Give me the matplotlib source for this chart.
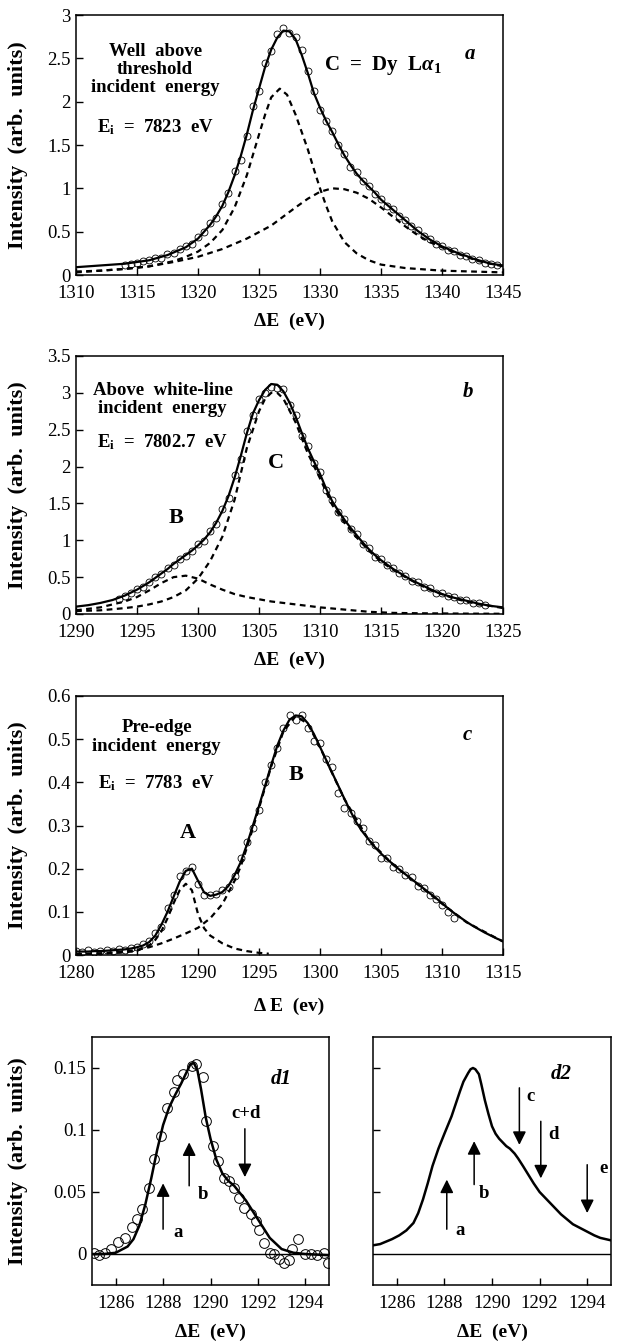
import numpy as np
import matplotlib
matplotlib.use("Agg")
import matplotlib.pyplot as plt
from matplotlib.ticker import FuncFormatter

plt.rcParams['font.family'] = ['Liberation Serif', 'DejaVu Serif']
plt.rcParams['mathtext.fontset'] = 'custom'
plt.rcParams['mathtext.rm'] = 'Liberation Serif:bold'
plt.rcParams['mathtext.it'] = 'Liberation Serif:italic:bold'
plt.rcParams['mathtext.bf'] = 'Liberation Serif:bold'

# ---------------- panel a : well above threshold ----------------
a_x = [1310, 1310.5, 1311, 1311.5, 1312, 1312.5, 1313, 1313.5,
       1314, 1314.5, 1315, 1315.5, 1316, 1316.5, 1317, 1317.5, 1318, 1318.5,
       1319, 1319.5, 1320, 1320.5, 1321, 1321.5, 1322, 1322.5, 1323, 1323.5,
       1324, 1324.5, 1325, 1325.5, 1326, 1326.5, 1327, 1327.5, 1328, 1328.5,
       1329, 1329.5, 1330, 1330.5, 1331, 1331.5, 1332, 1332.5, 1333, 1333.5,
       1334, 1334.5, 1335, 1335.5, 1336, 1336.5, 1337, 1337.5, 1338, 1338.5,
       1339, 1339.5, 1340, 1340.5, 1341, 1341.5, 1342, 1342.5, 1343, 1343.5,
       1344, 1344.5, 1345]
a_fit = [0.09, 0.095, 0.10, 0.105, 0.11, 0.115, 0.12, 0.125,
         0.13, 0.14, 0.15, 0.16, 0.17, 0.19, 0.21, 0.23, 0.26, 0.29,
         0.32, 0.37, 0.42, 0.50, 0.58, 0.68, 0.80, 0.96, 1.15, 1.37,
         1.62, 1.90, 2.15, 2.40, 2.60, 2.74, 2.82, 2.81, 2.72, 2.54,
         2.33, 2.10, 1.93, 1.78, 1.65, 1.51, 1.38, 1.27, 1.17, 1.09,
         1.02, 0.95, 0.87, 0.81, 0.75, 0.69, 0.63, 0.57, 0.51, 0.46,
         0.41, 0.37, 0.33, 0.30, 0.27, 0.24, 0.22, 0.19, 0.17, 0.15,
         0.13, 0.12, 0.11]
a_data = [0.12, 0.13, 0.14, 0.16, 0.17, 0.20, 0.20, 0.24, 0.25, 0.30,
          0.33, 0.36, 0.44, 0.50, 0.60, 0.66, 0.82, 0.95, 1.20, 1.33,
          1.60, 1.95, 2.12, 2.45, 2.58, 2.78, 2.85, 2.79, 2.75, 2.60,
          2.35, 2.12, 1.90, 1.78, 1.66, 1.50, 1.40, 1.25, 1.19, 1.08,
          1.03, 0.94, 0.88, 0.80, 0.76, 0.68, 0.64, 0.56, 0.52, 0.45,
          0.42, 0.36, 0.34, 0.29, 0.28, 0.23, 0.22, 0.18, 0.17, 0.14,
          0.13, 0.11]
a_narrow_x = [1310, 1312, 1314, 1316, 1318, 1319, 1320, 1321, 1322, 1323, 1324,
              1325, 1325.5, 1326, 1326.7, 1327.3, 1328, 1328.5, 1329, 1329.5,
              1330, 1330.5, 1331, 1332, 1333, 1334, 1335, 1337, 1340, 1345]
a_narrow_y = [0.04, 0.05, 0.07, 0.10, 0.16, 0.21, 0.27, 0.37, 0.52, 0.78, 1.15,
              1.62, 1.85, 2.05, 2.15, 2.08, 1.85, 1.65, 1.45, 1.22,
              1.00, 0.80, 0.62, 0.38, 0.25, 0.17, 0.12, 0.08, 0.05, 0.03]
a_wide_x = [1310, 1312, 1314, 1316, 1318, 1320, 1322, 1324, 1326, 1328, 1329,
            1330, 1331, 1332, 1333, 1334, 1335, 1336, 1337, 1338, 1339, 1340,
            1341, 1342, 1343, 1344, 1345]
a_wide_y = [0.03, 0.05, 0.07, 0.10, 0.15, 0.21, 0.30, 0.42, 0.57, 0.78, 0.88,
            0.96, 1.00, 0.99, 0.95, 0.88, 0.78, 0.67, 0.56, 0.46, 0.38, 0.32,
            0.26, 0.21, 0.16, 0.13, 0.10]

# ---------------- panel b : above white line ----------------
b_x = [1290, 1290.5, 1291, 1291.5, 1292, 1292.5, 1293, 1293.5, 1294, 1294.5,
       1295, 1295.5, 1296, 1296.5, 1297, 1297.5, 1298, 1298.5, 1299, 1299.5,
       1300, 1300.5, 1301, 1301.5, 1302, 1302.5, 1303, 1303.5, 1304, 1304.5,
       1305, 1305.5, 1306, 1306.5, 1307, 1307.5, 1308, 1308.5, 1309, 1309.5,
       1310, 1310.5, 1311, 1311.5, 1312, 1312.5, 1313, 1313.5, 1314, 1314.5,
       1315, 1315.5, 1316, 1316.5, 1317, 1317.5, 1318, 1318.5, 1319, 1319.5,
       1320, 1320.5, 1321, 1321.5, 1322, 1322.5, 1323, 1323.5, 1324, 1324.5,
       1325]
b_fit = [0.10, 0.11, 0.12, 0.135, 0.15, 0.17, 0.19, 0.22, 0.25, 0.29,
         0.33, 0.38, 0.43, 0.49, 0.55, 0.61, 0.68, 0.74, 0.80, 0.86,
         0.93, 1.01, 1.11, 1.24, 1.40, 1.60, 1.85, 2.14, 2.45, 2.72,
         2.90, 3.04, 3.12, 3.11, 3.02, 2.87, 2.68, 2.46, 2.25, 2.07,
         1.90, 1.70, 1.53, 1.40, 1.28, 1.17, 1.07, 0.97, 0.88, 0.80,
         0.73, 0.67, 0.61, 0.56, 0.51, 0.46, 0.42, 0.38, 0.34, 0.30,
         0.27, 0.245, 0.22, 0.20, 0.18, 0.16, 0.14, 0.125, 0.11, 0.10,
         0.09]
b_data = [0.20, 0.24, 0.29, 0.34, 0.37, 0.44, 0.50, 0.54, 0.62, 0.67,
          0.75, 0.79, 0.85, 0.95, 0.99, 1.12, 1.22, 1.42, 1.58, 1.88,
          2.10, 2.48, 2.70, 2.92, 3.00, 3.08, 3.06, 3.05, 2.84, 2.70,
          2.42, 2.28, 2.05, 1.92, 1.68, 1.55, 1.38, 1.29, 1.15, 1.08,
          0.95, 0.89, 0.78, 0.74, 0.66, 0.62, 0.55, 0.52, 0.45, 0.43,
          0.37, 0.35, 0.29, 0.28, 0.24, 0.23, 0.19, 0.19, 0.15, 0.15,
          0.12]
b_C_x = [1290, 1292, 1294, 1295, 1296, 1297, 1298, 1299, 1300, 1301, 1302,
         1303, 1304, 1305, 1305.5, 1306, 1306.5, 1307, 1308, 1309, 1310, 1311,
         1312, 1313, 1314, 1315, 1316, 1317, 1318, 1319, 1320, 1321, 1322,
         1323, 1324, 1325]
b_C_y = [0.04, 0.05, 0.08, 0.10, 0.13, 0.17, 0.23, 0.32, 0.48, 0.72, 1.05,
         1.55, 2.25, 2.75, 2.92, 3.00, 3.00, 2.92, 2.60, 2.18, 1.84, 1.48,
         1.24, 1.04, 0.86, 0.71, 0.60, 0.50, 0.41, 0.33, 0.27, 0.21, 0.17,
         0.13, 0.11, 0.08]
b_B_x = [1290, 1292, 1294, 1295, 1296, 1297, 1298, 1299, 1300, 1301, 1302,
         1303, 1304, 1305, 1306, 1308, 1310, 1312, 1314, 1316, 1318, 1322, 1325]
b_B_y = [0.05, 0.09, 0.17, 0.23, 0.32, 0.42, 0.50, 0.52, 0.48, 0.40, 0.33,
         0.27, 0.23, 0.20, 0.17, 0.13, 0.09, 0.06, 0.03, 0.015, 0.01, 0.005, 0.003]

# ---------------- panel c : pre-edge ----------------
c_x = [1280, 1280.5, 1281, 1281.5, 1282, 1282.5, 1283, 1283.5, 1284, 1284.5,
       1285, 1285.5, 1286, 1286.5, 1287, 1287.5, 1288, 1288.5, 1289, 1289.5,
       1290, 1290.5, 1291, 1291.5, 1292, 1292.5, 1293, 1293.5, 1294, 1294.5,
       1295, 1295.5, 1296, 1296.5, 1297, 1297.5, 1298, 1298.5, 1299, 1299.5,
       1300, 1300.5, 1301, 1301.5, 1302, 1302.5, 1303, 1303.5, 1304, 1304.5,
       1305, 1305.5, 1306, 1306.5, 1307, 1307.5, 1308, 1308.5, 1309, 1309.5,
       1310, 1310.5, 1311, 1311.5, 1312, 1312.5, 1313, 1313.5, 1314, 1314.5,
       1315]
c_fit = [0.008, 0.008, 0.008, 0.009, 0.009, 0.010, 0.011, 0.012, 0.013, 0.015,
         0.018, 0.022, 0.030, 0.045, 0.070, 0.100, 0.135, 0.170, 0.195, 0.200,
         0.172, 0.145, 0.137, 0.140, 0.146, 0.160, 0.185, 0.215, 0.255, 0.300,
         0.345, 0.392, 0.440, 0.485, 0.520, 0.545, 0.555, 0.553, 0.537, 0.512,
         0.482, 0.452, 0.422, 0.392, 0.362, 0.333, 0.306, 0.285, 0.267, 0.250,
         0.235, 0.222, 0.210, 0.198, 0.187, 0.176, 0.165, 0.154, 0.143, 0.132,
         0.120, 0.108, 0.097, 0.087, 0.077, 0.068, 0.060, 0.052, 0.045, 0.038,
         0.032]
c_data = [0.010, 0.008, 0.011, 0.007, 0.010, 0.012, 0.010, 0.013, 0.012, 0.017,
          0.018, 0.025, 0.033, 0.050, 0.065, 0.108, 0.140, 0.182, 0.195, 0.205,
          0.165, 0.140, 0.138, 0.142, 0.150, 0.158, 0.182, 0.225, 0.262, 0.295,
          0.335, 0.400, 0.440, 0.480, 0.525, 0.555, 0.545, 0.555, 0.525, 0.495,
          0.490, 0.455, 0.435, 0.375, 0.340, 0.330, 0.310, 0.295, 0.265, 0.255,
          0.225, 0.225, 0.205, 0.200, 0.185, 0.180, 0.160, 0.155, 0.140, 0.130,
          0.115, 0.100, 0.085]
c_A_x = [1280, 1282, 1284, 1285, 1286, 1286.5, 1287, 1287.5, 1288, 1288.5,
         1289, 1289.5, 1290, 1290.5, 1291, 1292, 1293, 1294, 1295, 1295.8]
c_A_y = [0.002, 0.003, 0.006, 0.010, 0.022, 0.035, 0.055, 0.085, 0.120, 0.150,
         0.165, 0.150, 0.095, 0.062, 0.045, 0.027, 0.015, 0.009, 0.005, 0.003]
c_B_x = [1280, 1282, 1284, 1285, 1286, 1287, 1288, 1289, 1290, 1291, 1292,
         1292.5, 1293, 1293.5, 1294, 1295, 1296, 1297, 1298, 1299, 1300, 1302,
         1304, 1306, 1308, 1310, 1312, 1315]
c_B_y = [0.002, 0.004, 0.008, 0.012, 0.018, 0.027, 0.038, 0.050, 0.063, 0.085,
         0.118, 0.145, 0.172, 0.205, 0.248, 0.340, 0.437, 0.518, 0.553, 0.536,
         0.481, 0.361, 0.266, 0.209, 0.164, 0.119, 0.076, 0.031]

# ---------------- panel d1 : difference data ----------------
d1_fit_x = [1285, 1285.5, 1286, 1286.5, 1286.75, 1287, 1287.25, 1287.5, 1287.75,
            1288, 1288.25, 1288.5, 1288.75, 1289, 1289.15, 1289.3, 1289.45,
            1289.6, 1289.8, 1290, 1290.25, 1290.5, 1290.75, 1291, 1291.5, 1292,
            1292.5, 1293, 1293.5, 1294, 1295]
d1_fit_y = [0.0, 0.0, 0.001, 0.006, 0.012, 0.023, 0.040, 0.061, 0.084,
            0.104, 0.118, 0.128, 0.137, 0.147, 0.153, 0.154, 0.148,
            0.133, 0.110, 0.093, 0.076, 0.065, 0.059, 0.055, 0.043, 0.028,
            0.013, 0.004, 0.001, 0.0, -0.001]
d1_data_x = [1285.1, 1285.3, 1285.55, 1285.8, 1286.1, 1286.4, 1286.7, 1286.9,
             1287.1, 1287.4, 1287.6, 1287.9, 1288.15, 1288.45, 1288.6, 1288.85,
             1289.2, 1289.4, 1289.7, 1289.8, 1290.1, 1290.3, 1290.55, 1290.8,
             1291.0, 1291.2, 1291.4, 1291.7, 1291.9, 1292.05, 1292.25, 1292.5,
             1292.7, 1292.9, 1293.1, 1293.3, 1293.45, 1293.7, 1294.0, 1294.25,
             1294.5, 1294.8, 1294.95]
d1_data_y = [0.001, -0.001, 0.001, 0.004, 0.010, 0.013, 0.022, 0.028,
             0.036, 0.053, 0.077, 0.095, 0.118, 0.131, 0.140, 0.145,
             0.152, 0.153, 0.143, 0.107, 0.087, 0.075, 0.061, 0.059,
             0.053, 0.045, 0.037, 0.032, 0.027, 0.019, 0.009, 0.001,
             0.000, -0.004, -0.007, -0.005, 0.004, 0.012, 0.000, 0.000,
             -0.001, 0.001, -0.007]

# ---------------- panel d2 : calculation ----------------
d2_x = [1285, 1285.3, 1285.55, 1285.8, 1286.1, 1286.4, 1286.7, 1286.9, 1287.1,
        1287.3, 1287.5, 1287.75, 1288.0, 1288.3, 1288.65, 1288.8, 1289.0,
        1289.1, 1289.2, 1289.3, 1289.45, 1289.55, 1289.7, 1289.85, 1290.0,
        1290.15, 1290.3, 1290.45, 1290.6, 1290.75, 1290.95, 1291.1, 1291.3,
        1291.75, 1292.0, 1292.3, 1292.6, 1292.9, 1293.15, 1293.4, 1293.7,
        1294.0, 1294.3, 1294.55, 1295.0]
d2_y = [0.007, 0.008, 0.010, 0.012, 0.015, 0.019, 0.025, 0.033, 0.044,
        0.057, 0.071, 0.085, 0.097, 0.111, 0.131, 0.139, 0.146,
        0.149, 0.150, 0.149, 0.145, 0.137, 0.124, 0.113, 0.103,
        0.097, 0.093, 0.090, 0.087, 0.085, 0.081, 0.077, 0.071,
        0.057, 0.050, 0.044, 0.038, 0.032, 0.028, 0.024, 0.021,
        0.018, 0.015, 0.013, 0.011]

# arrows: label, x, y tail, y head, label x, label y
d1_arrows = [('a', 1288.0, 0.020, 0.057, 1288.65, 0.017),
             ('b', 1289.1, 0.055, 0.090, 1289.7, 0.048),
             ('c+d', 1291.45, 0.101, 0.062, 1291.5, 0.113)]
d2_arrows = [('a', 1288.1, 0.020, 0.060, 1288.65, 0.019),
             ('b', 1289.25, 0.056, 0.091, 1289.65, 0.049),
             ('c', 1291.15, 0.134, 0.088, 1291.6, 0.127),
             ('d', 1292.05, 0.107, 0.061, 1292.6, 0.096),
             ('e', 1294.0, 0.072, 0.033, 1294.7, 0.069)]

W, H = 634, 1342
fig = plt.figure(figsize=(W / 100, H / 100), dpi=100)


def box(l, t, r, b):
    return [l / W, 1 - b / H, (r - l) / W, (b - t) / H]


fmt = FuncFormatter(lambda v, p: '%g' % round(v, 3))
tfs = 13.5
bold = dict(fontweight='bold', fontsize=13.5)
dash = dict(color='k', lw=1.6, dashes=(2.6, 2.0))


def style(ax):
    for s in ax.spines.values():
        s.set_linewidth(1.1)
    ax.tick_params(direction='in', length=5, width=1, labelsize=tfs,
                   top=False, right=False)
    ax.tick_params(axis='x', pad=7)
    ax.tick_params(axis='y', pad=4)
    ax.yaxis.set_major_formatter(fmt)


def labels(ax, xl, xy, yl=True, yx=-0.136):
    ax.text(0.5, xy, xl, transform=ax.transAxes, ha='center', va='center',
            fontsize=14, fontweight='bold')
    if yl:
        ax.text(yx, 0.5, 'Intensity  (arb.  units)', transform=ax.transAxes,
                rotation=90, ha='center', va='center', fontsize=16,
                fontweight='bold')


# panel a
ax = fig.add_axes(box(76, 15, 503, 275))
ax.plot(a_narrow_x, a_narrow_y, **dash)
ax.plot(a_wide_x, a_wide_y, **dash)
ax.plot(a_x[8:70], a_data, 'o', mfc='none', mec='k', ms=5, mew=0.6)
ax.plot(a_x, a_fit, color='k', lw=1.6)
ax.set_xlim(1310, 1345)
ax.set_ylim(0, 3)
ax.set_xticks([1310, 1315, 1320, 1325, 1330, 1335, 1340, 1345])
ax.set_yticks([0, 0.5, 1, 1.5, 2, 2.5, 3])
style(ax)
ax.text(1316.5, 2.37, 'Well  above\nthreshold\nincident  energy', ha='center',
        va='center', linespacing=1.1, **bold)
ax.text(1316.5, 1.71, r'E$_{\rm i}$  =  7823  eV', ha='center', va='center', **bold)
ax.text(1335.2, 2.42, r'C  =  Dy  L$\alpha_{\rm 1}$', ha='center', va='center',
        fontweight='bold', fontsize=15)
ax.text(1342.3, 2.55, 'a', ha='center', va='center', fontsize=15,
        fontweight='bold', style='italic')
labels(ax, 'ΔE  (eV)', -0.177)

# panel b
ax = fig.add_axes(box(76, 356, 503, 614))
ax.plot(b_C_x, b_C_y, **dash)
ax.plot(b_B_x, b_B_y, **dash)
ax.plot(b_x[7:68], b_data, 'o', mfc='none', mec='k', ms=5, mew=0.6)
ax.plot(b_x, b_fit, color='k', lw=1.6)
ax.set_xlim(1290, 1325)
ax.set_ylim(0, 3.5)
ax.set_xticks([1290, 1295, 1300, 1305, 1310, 1315, 1320, 1325])
ax.set_yticks([0, 0.5, 1, 1.5, 2, 2.5, 3, 3.5])
style(ax)
ax.text(1297.1, 2.91, 'Above  white-line\nincident  energy', ha='center',
        va='center', linespacing=1.1, **bold)
ax.text(1297.1, 2.33, r'E$_{\rm i}$  =  7802.7  eV', ha='center', va='center', **bold)
ax.text(1306.4, 2.05, 'C', ha='center', va='center', fontsize=16, fontweight='bold')
ax.text(1298.2, 1.30, 'B', ha='center', va='center', fontsize=16, fontweight='bold')
ax.text(1322.1, 3.01, 'b', ha='center', va='center', fontsize=15,
        fontweight='bold', style='italic')
labels(ax, 'ΔE  (eV)', -0.178)

# panel c
ax = fig.add_axes(box(76, 696, 503, 955))
ax.plot(c_A_x, c_A_y, **dash)
ax.plot(c_B_x, c_B_y, **dash)
ax.plot(c_x[:len(c_data)], c_data, 'o', mfc='none', mec='k', ms=5, mew=0.6)
ax.plot(c_x, c_fit, color='k', lw=1.6)
ax.set_xlim(1280, 1315)
ax.set_ylim(0, 0.6)
ax.set_xticks([1280, 1285, 1290, 1295, 1300, 1305, 1310, 1315])
ax.set_yticks([0, 0.1, 0.2, 0.3, 0.4, 0.5, 0.6])
style(ax)
ax.text(1286.6, 0.505, 'Pre-edge\nincident  energy', ha='center',
        va='center', linespacing=1.1, **bold)
ax.text(1286.6, 0.398, r'E$_{\rm i}$  =  7783  eV', ha='center', va='center', **bold)
ax.text(1289.2, 0.283, 'A', ha='center', va='center', fontsize=16, fontweight='bold')
ax.text(1298.0, 0.417, 'B', ha='center', va='center', fontsize=16, fontweight='bold')
ax.text(1312.1, 0.51, 'c', ha='center', va='center', fontsize=15,
        fontweight='bold', style='italic')
labels(ax, 'Δ E  (ev)', -0.20)


def arrows(ax, spec):
    for lab, x, y0, y1, lx, ly in spec:
        ax.annotate('', xy=(x, y1), xytext=(x, y0),
                    arrowprops=dict(arrowstyle='-|>', color='k', lw=1.1,
                                    mutation_scale=20, shrinkA=0, shrinkB=0))
        ax.text(lx, ly, lab, ha='center', va='center', **bold)


# panel d1
ax = fig.add_axes(box(92, 1037, 329, 1285))
ax.axhline(0, color='k', lw=1.0)
ax.plot(d1_data_x, d1_data_y, 'o', mfc='none', mec='k', ms=7, mew=0.7)
ax.plot(d1_fit_x, d1_fit_y, color='k', lw=1.8)
ax.set_xlim(1285, 1295)
ax.set_ylim(-0.025, 0.175)
ax.set_xticks([1286, 1288, 1290, 1292, 1294])
ax.set_yticks([0, 0.05, 0.1, 0.15])
style(ax)
arrows(ax, d1_arrows)
ax.text(1293.0, 0.141, 'd1', ha='center', va='center', fontsize=15,
        fontweight='bold', style='italic')
labels(ax, 'ΔE  (eV)', -0.19, yx=-0.312)

# panel d2
ax = fig.add_axes(box(373, 1037, 611, 1285))
ax.axhline(0, color='k', lw=1.0)
ax.plot(d2_x, d2_y, color='k', lw=1.8)
ax.set_xlim(1285, 1295)
ax.set_ylim(-0.025, 0.175)
ax.set_xticks([1286, 1288, 1290, 1292, 1294])
ax.set_yticks([0.05, 0.1, 0.15])
style(ax)
ax.set_yticklabels([])
arrows(ax, d2_arrows)
ax.text(1292.9, 0.145, 'd2', ha='center', va='center', fontsize=15,
        fontweight='bold', style='italic')
labels(ax, 'ΔE  (eV)', -0.19, yl=False)

fig.savefig('out.png', dpi=100)
